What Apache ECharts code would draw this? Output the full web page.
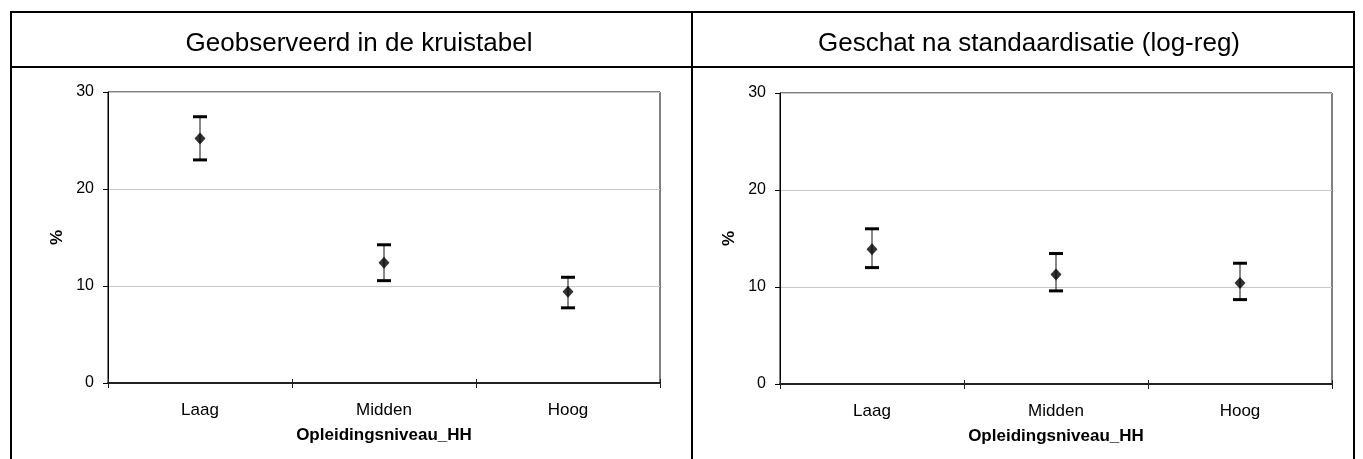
<!DOCTYPE html>
<html>
<head>
<meta charset="utf-8">
<script src="https://cdn.jsdelivr.net/npm/echarts@6/dist/echarts.min.js"></script>
<style>
  html, body { margin: 0; padding: 0; background: #fff; }
  #chart { width: 1363px; height: 459px; }
</style>
</head>
<body>
<div id="chart"></div>
<script>
// categorieen en waarden
var categories = ['Laag', 'Midden', 'Hoog'];
var panelTitles = ['Geobserveerd in de kruistabel', 'Geschat na standaardisatie (log-reg)'];

var observedValues = [25.2, 12.4, 9.4];
var observedLower = [23.0, 10.55, 7.75];
var observedUpper = [27.45, 14.25, 10.9];

var estimatedValues = [13.9, 11.3, 10.4];
var estimatedLower = [12.0, 9.6, 8.7];
var estimatedUpper = [16.0, 13.45, 12.45];

var font = 'Liberation Sans, Arial, sans-serif';
var chart = echarts.init(document.getElementById('chart'));

function errorData(lower, upper) {
  var out = [];
  for (var i = 0; i < categories.length; i++) {
    out.push([i, lower[i], upper[i]]);
  }
  return out;
}

// foutbalk: verticale lijn met twee dikke kapjes
function renderError(params, api) {
  var x = api.value(0);
  var lo = api.coord([x, api.value(1)]);
  var hi = api.coord([x, api.value(2)]);
  var half = 7;
  return {
    type: 'group',
    children: [
      { type: 'line', shape: { x1: lo[0], y1: lo[1], x2: hi[0], y2: hi[1] },
        style: { stroke: '#111', lineWidth: 1 } },
      { type: 'line', shape: { x1: hi[0] - half, y1: hi[1], x2: hi[0] + half, y2: hi[1] },
        style: { stroke: '#000', lineWidth: 3 } },
      { type: 'line', shape: { x1: lo[0] - half, y1: lo[1], x2: lo[0] + half, y2: lo[1] },
        style: { stroke: '#000', lineWidth: 3 } }
    ]
  };
}

var grids = [
  { left: 108, top: 92, width: 552, height: 291 },
  { left: 780, top: 93, width: 552, height: 291 }
];

var xAxes = [];
var yAxes = [];
var series = [];
var sets = [
  [observedValues, observedLower, observedUpper],
  [estimatedValues, estimatedLower, estimatedUpper]
];

grids.forEach(function (g, k) {
  g.show = true;
  g.borderColor = '#000';
  g.borderWidth = 1;
  g.backgroundColor = '#fff';

  xAxes.push({
    type: 'category', gridIndex: k, data: categories, position: 'bottom',
    axisLine: { lineStyle: { color: '#222', width: 2 } },
    axisTick: { show: true, length: 5, interval: 0, lineStyle: { color: '#222' } },
    axisLabel: { color: '#000', fontSize: 17, fontFamily: font, margin: 19 },
    name: 'Opleidingsniveau_HH', nameLocation: 'middle', nameGap: 44,
    nameTextStyle: { color: '#000', fontSize: 17, fontWeight: 'bold', fontFamily: font }
  });
  // tweede as alleen voor de tikjes naar binnen
  xAxes.push({
    type: 'category', gridIndex: k, data: categories, position: 'bottom',
    axisLine: { show: false },
    axisTick: { show: true, inside: true, length: 4, interval: 0, lineStyle: { color: '#222' } },
    axisLabel: { show: false }
  });

  yAxes.push({
    type: 'value', gridIndex: k, min: 0, max: 30, interval: 10,
    axisLine: { show: true, lineStyle: { color: '#000', width: 1 } },
    axisTick: { show: true, length: 5, lineStyle: { color: '#000' } },
    axisLabel: { color: '#000', fontSize: 16, fontFamily: font, margin: 14 },
    splitLine: { lineStyle: { color: '#c8c8c8', width: 1 } },
    name: '%', nameLocation: 'middle', nameGap: 42, nameRotate: 90,
    nameTextStyle: { color: '#000', fontSize: 17, fontWeight: 'bold', fontFamily: font }
  });

  var s = sets[k];
  series.push({
    type: 'custom', xAxisIndex: k * 2, yAxisIndex: k,
    renderItem: renderError,
    encode: { x: 0, y: [1, 2] },
    data: errorData(s[1], s[2]),
    z: 2
  });
  series.push({
    type: 'scatter', xAxisIndex: k * 2, yAxisIndex: k,
    symbol: 'diamond', symbolSize: [11, 12],
    itemStyle: { color: '#000' },
    data: s[0],
    z: 3
  });
});

var lineStyle = { stroke: '#000', lineWidth: 2 };

chart.setOption({
  animation: false,
  backgroundColor: '#fff',
  title: [
    { text: panelTitles[0], left: 354, top: 26, textAlign: 'center',
      textStyle: { color: '#000', fontSize: 26, fontWeight: 'normal', fontFamily: font } },
    { text: panelTitles[1], left: 1024, top: 26, textAlign: 'center',
      textStyle: { color: '#000', fontSize: 26, fontWeight: 'normal', fontFamily: font } }
  ],
  grid: grids,
  xAxis: xAxes,
  yAxis: yAxes,
  series: series,
  graphic: [
    { type: 'line', shape: { x1: 10, y1: 12, x2: 1355, y2: 12 }, style: lineStyle, silent: true },
    { type: 'line', shape: { x1: 10, y1: 67, x2: 1355, y2: 67 }, style: lineStyle, silent: true },
    { type: 'line', shape: { x1: 11, y1: 11, x2: 11, y2: 459 }, style: lineStyle, silent: true },
    { type: 'line', shape: { x1: 692, y1: 11, x2: 692, y2: 459 }, style: lineStyle, silent: true },
    { type: 'line', shape: { x1: 1354, y1: 11, x2: 1354, y2: 459 }, style: lineStyle, silent: true }
  ]
});
</script>
</body>
</html>
